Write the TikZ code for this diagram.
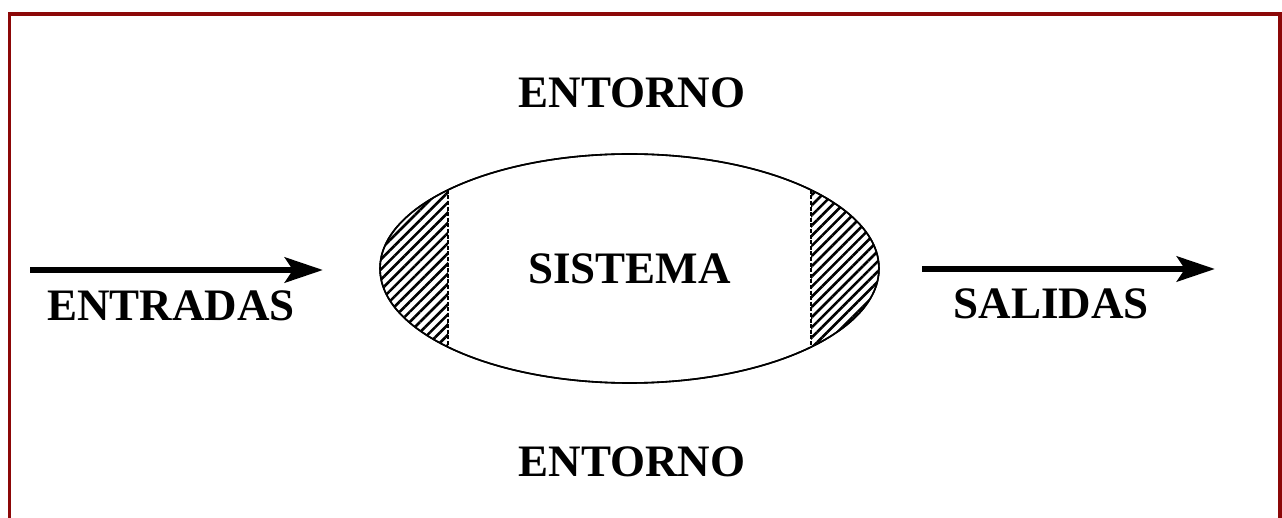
\documentclass[tikz,border=0pt]{standalone}
\usepackage{fontspec}
\setmainfont{Liberation Serif}
\usetikzlibrary{arrows.meta,shapes.geometric,patterns.meta}
\definecolor{framered}{RGB}{140,8,8}
\tikzset{
every node/.style={font=\fontsize{22.5pt}{27pt}\selectfont\bfseries},
txtstyle/.style= {anchor=base,inner sep=0pt},
sysstyle/.style= {ellipse,draw,line width=0.8pt,minimum width=249.5pt,minimum height=114.5pt,inner sep=0pt},
flowstyle/.style= {->,line width=3.4pt},
hatchstyle/.style= {pattern={Lines[angle=45,distance=3.6pt,line width=1.3pt]}},
edgestyle/.style= {line width=0.6pt,dash pattern=on 2pt off 0.8pt}
}

\begin{document}
\begin{tikzpicture}[
x=0.5pt,y=-0.5pt,
>={Stealth[length=19pt,width=12.5pt,inset=4pt]}]

\useasboundingbox (0,0) rectangle (1282,518);

% frame round the whole picture
\draw[framered,line width=1.75pt] (9.5,14) rectangle (1280,540);

% the system and its hatched borders
\node[sysstyle] (sis) at (629.5,268.5) {SISTEMA};
\begin{scope}
\clip (sis.center) ellipse (249.5 and 114.5);
\fill[hatchstyle] (370,140) rectangle (448,400);
\fill[hatchstyle] (811,140) rectangle (890,400);
\end{scope}
\node[sysstyle] at (sis.center) {};
\coordinate (lt) at (448,189.9);
\coordinate (lb) at (448,347.1);
\coordinate (rt) at (811,189.9);
\coordinate (rb) at (811,347.1);
\draw[edgestyle] (lt) -- (lb);
\draw[edgestyle] (rt) -- (rb);

% environment
\node[txtstyle] (env1) at (632,108) {ENTORNO};
\node[txtstyle] (env2) at (632,477) {ENTORNO};

% inputs and outputs
\coordinate (in1) at (30,270);
\coordinate (in2) at (323,270);
\coordinate (out1) at (922,269);
\coordinate (out2) at (1215,269);
\draw[flowstyle] (in1) -- (in2);
\draw[flowstyle] (out1) -- (out2);
\node[txtstyle] (inp) at (171,321) {ENTRADAS};
\node[txtstyle] (outp) at (1051.5,319) {SALIDAS};

\end{tikzpicture}
\end{document}
